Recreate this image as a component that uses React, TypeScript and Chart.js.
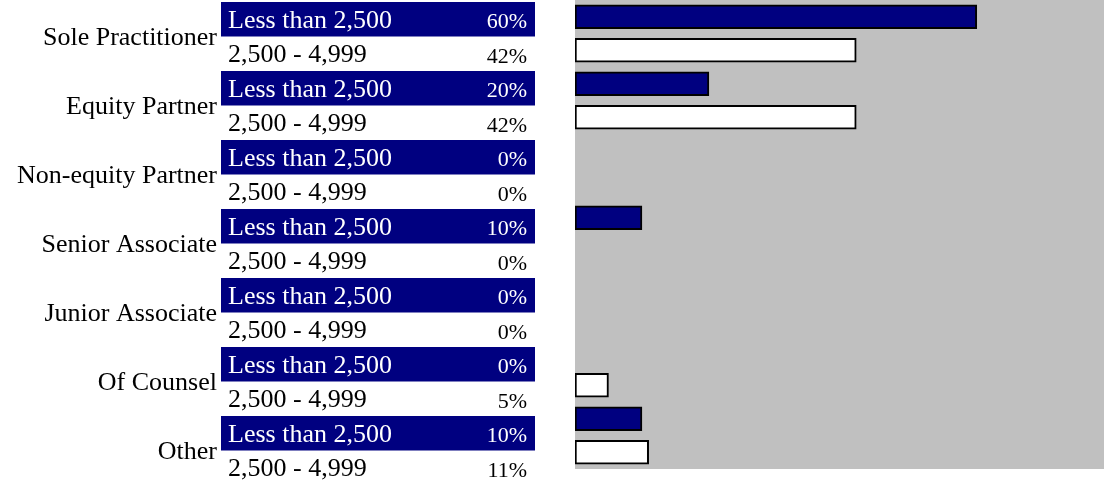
import React, { useEffect, useRef } from "react";
import { Chart, registerables } from "chart.js";

Chart.register(...registerables);

const categories = [
  "Sole Practitioner",
  "Equity Partner",
  "Non-equity Partner",
  "Senior Associate",
  "Junior Associate",
  "Of Counsel",
  "Other",
];
const sizeBands = ["Less than 2,500", "2,500 - 4,999"];
const lessThan2500 = [60, 20, 0, 10, 0, 0, 10];
const from2500to4999 = [42, 42, 0, 0, 0, 5, 11];
const xMax = 79;

const NAVY = "#000080";
const GRAY = "#C0C0C0";

export default function App() {
  const ref = useRef<HTMLCanvasElement | null>(null);

  useEffect(() => {
    const canvas = ref.current;
    if (!canvas) return;

    const labels: string[] = [];
    const values: number[] = [];
    const colors: string[] = [];
    const seriesIdx: number[] = [];
    categories.forEach((c, i) => {
      labels.push(c + " | " + sizeBands[0]);
      values.push(lessThan2500[i]);
      colors.push(NAVY);
      seriesIdx.push(0);
      labels.push(c + " | " + sizeBands[1]);
      values.push(from2500to4999[i]);
      colors.push("#FFFFFF");
      seriesIdx.push(1);
    });

    const tableTop = 2;
    const rowH = 34.5;
    const tableLeft = 221;
    const tableRight = 535;

    const bgPlugin = {
      id: "plotBg",
      beforeDraw(chart: any) {
        const { ctx, chartArea } = chart;
        ctx.save();
        ctx.fillStyle = GRAY;
        ctx.fillRect(
          chartArea.left,
          chartArea.top,
          chartArea.right - chartArea.left,
          chartArea.bottom - chartArea.top
        );
        ctx.restore();
      },
    };

    const tablePlugin = {
      id: "leftTable",
      afterDraw(chart: any) {
        const { ctx } = chart;
        ctx.save();
        for (let r = 0; r < values.length; r++) {
          const y0 = tableTop + r * rowH;
          const yc = y0 + rowH / 2;
          const navy = seriesIdx[r] === 0;
          if (navy) {
            ctx.fillStyle = NAVY;
            ctx.fillRect(tableLeft, y0, tableRight - tableLeft, rowH);
          }
          ctx.fillStyle = navy ? "#FFFFFF" : "#000000";
          ctx.textBaseline = "alphabetic";
          ctx.textAlign = "left";
          ctx.font = "26px 'Liberation Serif', 'Times New Roman', serif";
          ctx.fillText(sizeBands[seriesIdx[r]], tableLeft + 7, yc + 8.5);
          ctx.textAlign = "right";
          ctx.font = "22px 'Liberation Serif', 'Times New Roman', serif";
          ctx.fillText(values[r] + "%", tableRight - 8, yc + 9);
        }
        ctx.fillStyle = "#000000";
        ctx.textAlign = "right";
        ctx.font = "26px 'Liberation Serif', 'Times New Roman', serif";
        categories.forEach((c, i) => {
          const yb = tableTop + (2 * i + 1) * rowH;
          ctx.fillText(c, 217, yb + 8.5);
        });
        ctx.restore();
      },
    };

    const chart = new Chart(canvas, {
      type: "bar",
      data: {
        labels,
        datasets: [
          {
            data: values,
            backgroundColor: colors,
            borderColor: "#000000",
            borderWidth: 2,
            borderSkipped: false,
            barThickness: 24,
          },
        ],
      },
      options: {
        indexAxis: "y",
        animation: false,
        responsive: false,
        devicePixelRatio: 1,
        layout: { padding: { left: 575, top: 0, right: 0, bottom: 15 } },
        plugins: {
          legend: { display: false },
          tooltip: { enabled: false },
          title: { display: false },
        },
        scales: {
          x: { display: false, min: 0, max: xMax },
          y: { display: false },
        },
      },
      plugins: [bgPlugin, tablePlugin],
    });

    return () => chart.destroy();
  }, []);

  return (
    <div style={{ position: "absolute", left: 0, top: 0, width: 1104, height: 484 }}>
      <canvas ref={ref} width={1104} height={484} style={{ display: "block" }} />
    </div>
  );
}
